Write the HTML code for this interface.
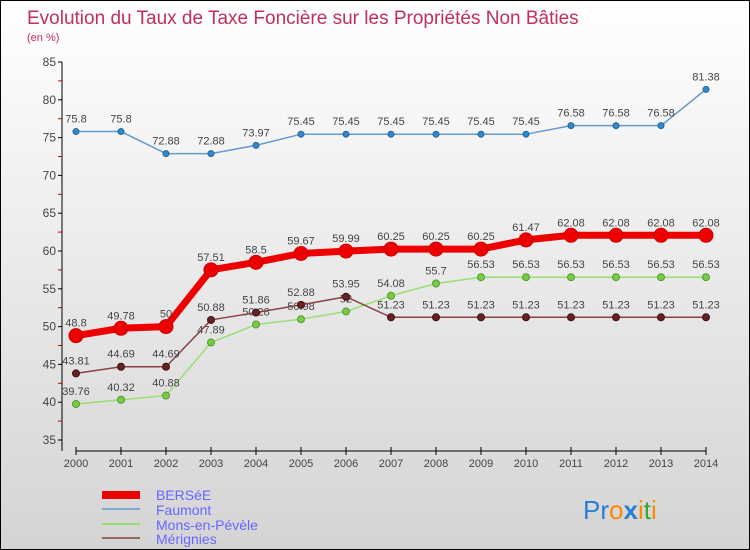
<!DOCTYPE html>
<html><head><meta charset="utf-8"><style>
body{margin:0;}
#wrap{width:750px;height:550px;position:relative;background:linear-gradient(#ffffff,#d4d4d4);border:1px solid #000;box-sizing:border-box;overflow:hidden;font-family:"Liberation Sans",sans-serif;}
svg text{font-family:"Liberation Sans",sans-serif;}
</style></head><body>
<div id="wrap">
<svg id="chart" width="750" height="550">
<text x="26" y="23" font-size="19" fill="#c0305a">Evolution du Taux de Taxe Foncière sur les Propriétés Non Bâties</text>
<text x="26" y="40" font-size="11" fill="#c0305a">(en %)</text>
<g id="axes"></g><g id="series"></g>
<g>
<rect x="101" y="490" width="38" height="8" fill="#ee0000"/>
<text x="155" y="499" font-size="14" fill="#6666ff">BERSéE</text>
<line x1="101" y1="508" x2="139" y2="508" stroke="#7aaad0" stroke-width="2"/>
<text x="155" y="514" font-size="14" fill="#6666ff">Faumont</text>
<line x1="101" y1="523" x2="139" y2="523" stroke="#99dd77" stroke-width="2"/>
<text x="155" y="529" font-size="14" fill="#6666ff">Mons-en-Pévèle</text>
<line x1="101" y1="537" x2="139" y2="537" stroke="#996666" stroke-width="2"/>
<text x="155" y="543" font-size="14" fill="#6666ff">Mérignies</text>
</g>
<text x="582" y="518" font-size="26"><tspan fill="#2a7fd4">Pr</tspan><tspan fill="#ff8800">o</tspan><tspan fill="#2a7fd4" font-weight="bold">x</tspan><tspan fill="#ff8800">i</tspan><tspan fill="#33aa33">t</tspan><tspan fill="#ff8800">i</tspan></text>
</svg>
</div>
<script>
const years=[2000,2001,2002,2003,2004,2005,2006,2007,2008,2009,2010,2011,2012,2013,2014];
const berse=[48.8,49.78,50,57.51,58.5,59.67,59.99,60.25,60.25,60.25,61.47,62.08,62.08,62.08,62.08];
const faumont=[75.8,75.8,72.88,72.88,73.97,75.45,75.45,75.45,75.45,75.45,75.45,76.58,76.58,76.58,81.38];
const mons=[39.76,40.32,40.88,47.89,50.28,50.98,52,54.08,55.7,56.53,56.53,56.53,56.53,56.53,56.53];
const merignies=[43.81,44.69,44.69,50.88,51.86,52.88,53.95,51.23,51.23,51.23,51.23,51.23,51.23,51.23,51.23];
const yTicks=[35,40,45,50,55,60,65,70,75,80,85];
const NS="http://www.w3.org/2000/svg";
const xs=i=>75+i*45;
const ys=v=>439-(v-35)*7.56;
function mk(t,a,p){const e=document.createElementNS(NS,t);for(const k in a)e.setAttribute(k,a[k]);p.appendChild(e);return e;}
const ax=document.getElementById('axes');
const yl=mk('line',{x1:61,y1:61,x2:61,y2:450,stroke:'#000'},ax);


const xl=mk('line',{x1:75,y1:450,x2:705,y2:450,stroke:'#000'},ax);


yTicks.forEach(v=>{
  mk('line',{x1:57,y1:ys(v),x2:61,y2:ys(v),stroke:'#000'},ax);
  if(v<85)mk('line',{x1:57,y1:ys(v+2.5),x2:61,y2:ys(v+2.5),stroke:'#cc0000'},ax);
  const t=mk('text',{x:55,y:ys(v)+4,'font-size':12,fill:'#444','text-anchor':'end'},ax);
  t.textContent=v;
  
  
});
years.forEach((y,i)=>{
  mk('line',{x1:xs(i),y1:446,x2:xs(i),y2:454,stroke:'#000'},ax);
  const t=mk('text',{x:xs(i),y:466,'font-size':11,fill:'#444','text-anchor':'middle'},ax);
  t.textContent=y;
  
  
});
const sg=document.getElementById('series');
function fmt(v){return String(v).replace('.','.');}
function draw(vals,name,color,w,r,fill,stroke){
  const g=mk('g',{},sg);
  
  
  const pl=mk('polyline',{points:vals.map((v,i)=>xs(i)+','+ys(v)).join(' '),fill:'none',stroke:color,'stroke-width':w,'stroke-linejoin':'round'},g);
  
  
  vals.forEach((v,i)=>{
    const c=mk('circle',{cx:xs(i),cy:ys(v),r:r,fill:fill,stroke:stroke,'stroke-width':1},g);
    
    
    const t=mk('text',{x:xs(i),y:ys(v)-9,'font-size':11,fill:'#444','text-anchor':'middle'},g);
    t.textContent=fmt(v);
    
    
  });
}
draw(faumont,'faumont','#6699cc',1.5,3,'#3388cc','#226699');
draw(mons,'mons-en-pevele','#99dd77',1.5,3.5,'#77cc44','#559933');
draw(merignies,'merignies','#884444',1.5,3.5,'#662222','#441111');
draw(berse,'berse','#ee0000',7,7,'#ee0000','#cc0000');
</script>
</body></html>
